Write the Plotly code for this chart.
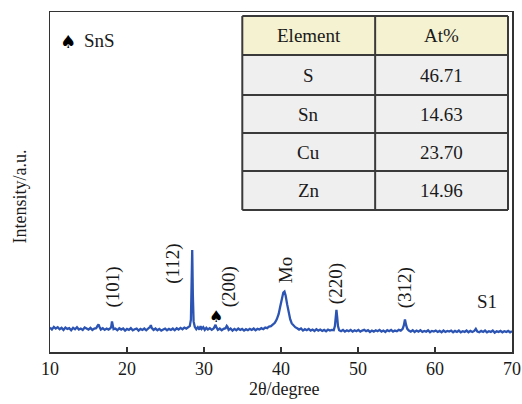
import plotly.graph_objects as go

# ---------------- data ----------------
two_theta = [
    10.0, 10.25, 10.5, 10.75, 11.0, 11.25, 11.5, 11.75, 12.0, 12.25, 12.5, 12.75,
    13.0, 13.25, 13.5, 13.75, 14.0, 14.25, 14.5, 14.75, 15.0, 15.25, 15.5, 15.75,
    16.0, 16.15, 16.3, 16.45, 16.6, 16.85, 17.1, 17.35, 17.6, 17.85, 17.95, 18.05,
    18.15, 18.25, 18.5, 18.75, 19.0, 19.25, 19.5, 19.75, 20.0, 20.25, 20.5, 20.75,
    21.0, 21.25, 21.5, 21.75, 22.0, 22.25, 22.5, 22.75, 23.0, 23.1, 23.2, 23.45,
    23.7, 23.95, 24.2, 24.45, 24.7, 24.95, 25.2, 25.45, 25.7, 25.95, 26.2, 26.45,
    26.7, 26.95, 27.2, 27.45, 27.7, 27.95, 28.15, 28.3, 28.4, 28.47, 28.55, 28.65,
    28.8, 29.0, 29.2, 29.4, 29.55, 29.7, 29.9, 30.1, 30.3, 30.5, 30.75, 31.0,
    31.25, 31.4, 31.5, 31.6, 31.8, 32.05, 32.3, 32.55, 32.8, 32.95, 33.05, 33.2,
    33.45, 33.7, 33.95, 34.2, 34.45, 34.7, 34.95, 35.2, 35.45, 35.7, 35.95, 36.2,
    36.45, 36.7, 36.95, 37.2, 37.45, 37.7, 37.95, 38.2, 38.45, 38.7, 38.95, 39.2,
    39.45, 39.7, 39.9, 40.1, 40.3, 40.45, 40.6, 40.8, 41.0, 41.2, 41.4, 41.6,
    41.85, 42.1, 42.35, 42.6, 42.85, 43.1, 43.35, 43.6, 43.85, 44.1, 44.35, 44.6,
    44.85, 45.1, 45.35, 45.6, 45.85, 46.1, 46.35, 46.6, 46.85, 47.0, 47.1, 47.2,
    47.3, 47.4, 47.55, 47.8, 48.05, 48.3, 48.55, 48.8, 49.05, 49.3, 49.55, 49.8,
    50.05, 50.3, 50.55, 50.8, 51.05, 51.3, 51.55, 51.8, 52.05, 52.3, 52.55, 52.8,
    53.05, 53.3, 53.55, 53.8, 54.05, 54.3, 54.55, 54.8, 55.05, 55.3, 55.55, 55.8,
    55.95, 56.1, 56.25, 56.4, 56.6, 56.85, 57.1, 57.35, 57.6, 57.85, 58.1, 58.35,
    58.6, 58.85, 59.1, 59.35, 59.6, 59.85, 60.1, 60.35, 60.6, 60.85, 61.1, 61.35,
    61.6, 61.85, 62.1, 62.35, 62.6, 62.85, 63.1, 63.35, 63.6, 63.85, 64.1, 64.35,
    64.6, 64.85, 65.1, 65.3, 65.5, 65.75, 66.0, 66.25, 66.5, 66.75, 67.0, 67.25,
    67.5, 67.75, 68.0, 68.25, 68.5, 68.75, 69.0, 69.25, 69.5, 69.75, 70.0,
]
intensity = [
    7.2, 6.6, 7.4, 6.9, 7.3, 6.7, 7.1, 6.5, 7.2, 6.8, 7.0, 6.4,
    7.1, 6.7, 7.3, 6.6, 6.9, 6.5, 7.2, 6.8, 6.6, 7.1, 6.5, 6.9,
    7.0, 7.6, 8.1, 7.3, 6.6, 7.0, 6.5, 6.9, 6.6, 7.0, 7.4, 9.0,
    7.6, 6.7, 6.9, 6.4, 7.0, 6.6, 6.9, 6.3, 6.8, 6.5, 7.0, 6.4,
    6.7, 6.9, 6.3, 6.8, 6.5, 6.9, 6.4, 6.8, 7.4, 7.9, 7.1, 6.5,
    6.9, 6.4, 6.8, 6.3, 6.7, 6.9, 6.4, 6.8, 6.5, 6.9, 6.4, 7.0,
    6.6, 7.1, 6.7, 7.2, 6.9, 7.4, 7.6, 9.5, 18.0, 30.0, 17.0, 9.0,
    7.4, 6.7, 7.3, 6.6, 7.6, 6.8, 7.3, 6.5, 7.1, 6.6, 7.0, 6.5,
    6.9, 7.6, 8.0, 7.3, 6.5, 6.9, 6.4, 6.8, 7.0, 7.7, 7.4, 6.5,
    6.9, 6.3, 6.8, 6.4, 6.9, 6.5, 6.8, 6.3, 6.7, 6.4, 6.8, 6.5,
    6.9, 6.4, 6.8, 6.6, 7.0, 6.7, 7.2, 7.0, 7.5, 7.6, 8.2, 8.6,
    9.6, 11.2, 13.4, 15.8, 17.5, 17.8, 16.6, 14.0, 11.5, 9.6, 8.4, 7.9,
    7.3, 7.0, 6.6, 6.9, 6.3, 6.7, 6.4, 6.8, 6.3, 6.6, 6.2, 6.7,
    6.3, 6.6, 6.2, 6.5, 6.1, 6.6, 6.3, 6.5, 6.4, 7.6, 10.0, 12.4,
    10.2, 7.6, 6.4, 6.1, 6.5, 6.0, 6.4, 6.1, 6.5, 6.0, 6.4, 6.1,
    6.5, 6.0, 6.3, 6.5, 6.1, 6.4, 5.9, 6.3, 6.0, 6.4, 6.1, 6.5,
    6.0, 6.3, 5.9, 6.4, 6.1, 6.5, 6.0, 6.3, 6.1, 6.5, 6.3, 6.8,
    7.8, 9.6, 7.9, 6.8, 6.3, 6.0, 6.4, 5.9, 6.3, 6.0, 6.4, 5.9,
    6.2, 6.0, 6.4, 5.8, 6.2, 6.0, 6.3, 5.9, 6.2, 5.8, 6.3, 5.9,
    6.2, 6.0, 6.3, 5.8, 6.2, 5.9, 6.3, 5.8, 6.1, 5.9, 6.3, 5.8,
    6.2, 5.9, 6.2, 6.8, 6.0, 5.8, 6.2, 5.9, 6.3, 5.8, 6.1, 5.9,
    6.3, 5.7, 6.1, 5.9, 6.2, 5.8, 6.1, 5.9, 6.2, 5.8, 6.1,
]

peak_labels = ["(101)", "(112)", "(200)", "Mo", "(220)", "(312)"]
peak_label_x = [18.24, 25.95, 33.28, 40.54, 47.16, 56.1]
peak_label_y = [19.1, 25.9, 19.1, 24.1, 20.0, 19.0]

sns_marker_x = [31.6]
sns_marker_y = [10.3]

sample_label = "S1"
legend_text = "SnS"

table_header = ["Element", "At%"]
elements = ["S", "Sn", "Cu", "Zn"]
at_percent = ["46.71", "14.63", "23.70", "14.96"]

x_ticks = [10, 20, 30, 40, 50, 60, 70]

# ---------------- layout helpers ----------------
W, H = 522, 404
L, R, T, B = 49.5, 512, 12, 352
SERIF = "Liberation Serif, Times New Roman, serif"
TXT = "#1a1a1a"


def px(xp):
    return (xp - L) / (R - L)


def py(yp):
    return (B - yp) / (B - T)


fig = go.Figure()
fig.add_trace(go.Scatter(
    x=two_theta, y=intensity, mode="lines",
    line=dict(color="#2c54b2", width=2.3),
    hoverinfo="skip", showlegend=False,
))

annotations = []
for lbl, lx, ly in zip(peak_labels, peak_label_x, peak_label_y):
    annotations.append(dict(
        x=lx, y=ly, xref="x", yref="y", text=lbl, showarrow=False,
        textangle=-90, font=dict(family=SERIF, size=19, color=TXT),
        xanchor="center", yanchor="middle",
    ))
for mx, my in zip(sns_marker_x, sns_marker_y):
    annotations.append(dict(
        x=mx, y=my, xref="x", yref="y", text="♠", showarrow=False,
        font=dict(family="DejaVu Sans", size=16, color="black"),
        xanchor="center", yanchor="middle",
    ))
annotations.append(dict(
    x=66.75, y=15.0, xref="x", yref="y", text=sample_label, showarrow=False,
    font=dict(family=SERIF, size=19, color=TXT), xanchor="center", yanchor="middle",
))
annotations.append(dict(
    x=px(68), y=py(41), xref="paper", yref="paper", text="♠", showarrow=False,
    font=dict(family="DejaVu Sans", size=18, color="black"),
    xanchor="center", yanchor="middle",
))
annotations.append(dict(
    x=px(82), y=py(40), xref="paper", yref="paper", text=legend_text, showarrow=False,
    font=dict(family=SERIF, size=19, color=TXT), xanchor="left", yanchor="middle",
))
annotations.append(dict(
    x=px(19), y=py(197), xref="paper", yref="paper", text="Intensity/a.u.",
    showarrow=False, textangle=-90, font=dict(family=SERIF, size=18, color=TXT),
    xanchor="center", yanchor="middle",
))
annotations.append(dict(
    x=px(284), y=py(389), xref="paper", yref="paper", text="2θ/degree",
    showarrow=False, font=dict(family=SERIF, size=18, color=TXT),
    xanchor="center", yanchor="middle",
))

# ---------------- table ----------------
col_x = [242, 375, 508]
row_y = [16, 55, 95, 133, 171, 210]
shapes = []
shapes.append(dict(type="rect", xref="paper", yref="paper",
                   x0=px(col_x[0]), x1=px(col_x[2]), y0=py(row_y[1]), y1=py(row_y[0]),
                   fillcolor="#f4f2d0", line=dict(width=0), layer="above"))
shapes.append(dict(type="rect", xref="paper", yref="paper",
                   x0=px(col_x[0]), x1=px(col_x[2]), y0=py(row_y[-1]), y1=py(row_y[1]),
                   fillcolor="#efefef", line=dict(width=0), layer="above"))
for yy in row_y:
    shapes.append(dict(type="line", xref="paper", yref="paper",
                       x0=px(col_x[0]), x1=px(col_x[2]), y0=py(yy), y1=py(yy),
                       line=dict(color="#3a3a3a", width=2), layer="above"))
for xx in col_x:
    shapes.append(dict(type="line", xref="paper", yref="paper",
                       x0=px(xx), x1=px(xx), y0=py(row_y[-1]), y1=py(row_y[0]),
                       line=dict(color="#3a3a3a", width=2), layer="above"))

rows = [table_header] + [[e, a] for e, a in zip(elements, at_percent)]
for ri, row in enumerate(rows):
    yc = (row_y[ri] + row_y[ri + 1]) / 2
    for ci, cell in enumerate(row):
        xc = (col_x[ci] + col_x[ci + 1]) / 2
        annotations.append(dict(
            x=px(xc), y=py(yc), xref="paper", yref="paper", text=cell,
            showarrow=False, font=dict(family=SERIF, size=19, color=TXT),
            xanchor="center", yanchor="middle",
        ))

fig.update_layout(
    width=W, height=H, autosize=False,
    margin=dict(l=L, r=W - R, t=T, b=H - B, pad=0, autoexpand=False),
    paper_bgcolor="white", plot_bgcolor="white",
    annotations=annotations, shapes=shapes,
    xaxis=dict(
        range=[10, 70], tickvals=x_ticks, ticktext=[str(v) for v in x_ticks],
        ticks="inside", ticklen=5, tickwidth=1.2, tickcolor="#333",
        showline=True, linecolor="#333", linewidth=1.5, mirror=True,
        showgrid=False, zeroline=False, fixedrange=True, automargin=False,
        tickfont=dict(family=SERIF, size=18, color=TXT),
    ),
    yaxis=dict(
        range=[0, 100], showticklabels=False, ticks="",
        showline=True, linecolor="#333", linewidth=1.5, mirror=True,
        showgrid=False, zeroline=False, fixedrange=True, automargin=False,
    ),
)

fig.write_html(
    "out.html",
    config={"displayModeBar": False, "responsive": False, "staticPlot": True},
    post_script=(
        "document.documentElement.style.overflow='hidden';"
        "document.body.style.overflow='hidden';"
        "document.body.style.margin='0';document.body.style.padding='0';"
    ),
)
